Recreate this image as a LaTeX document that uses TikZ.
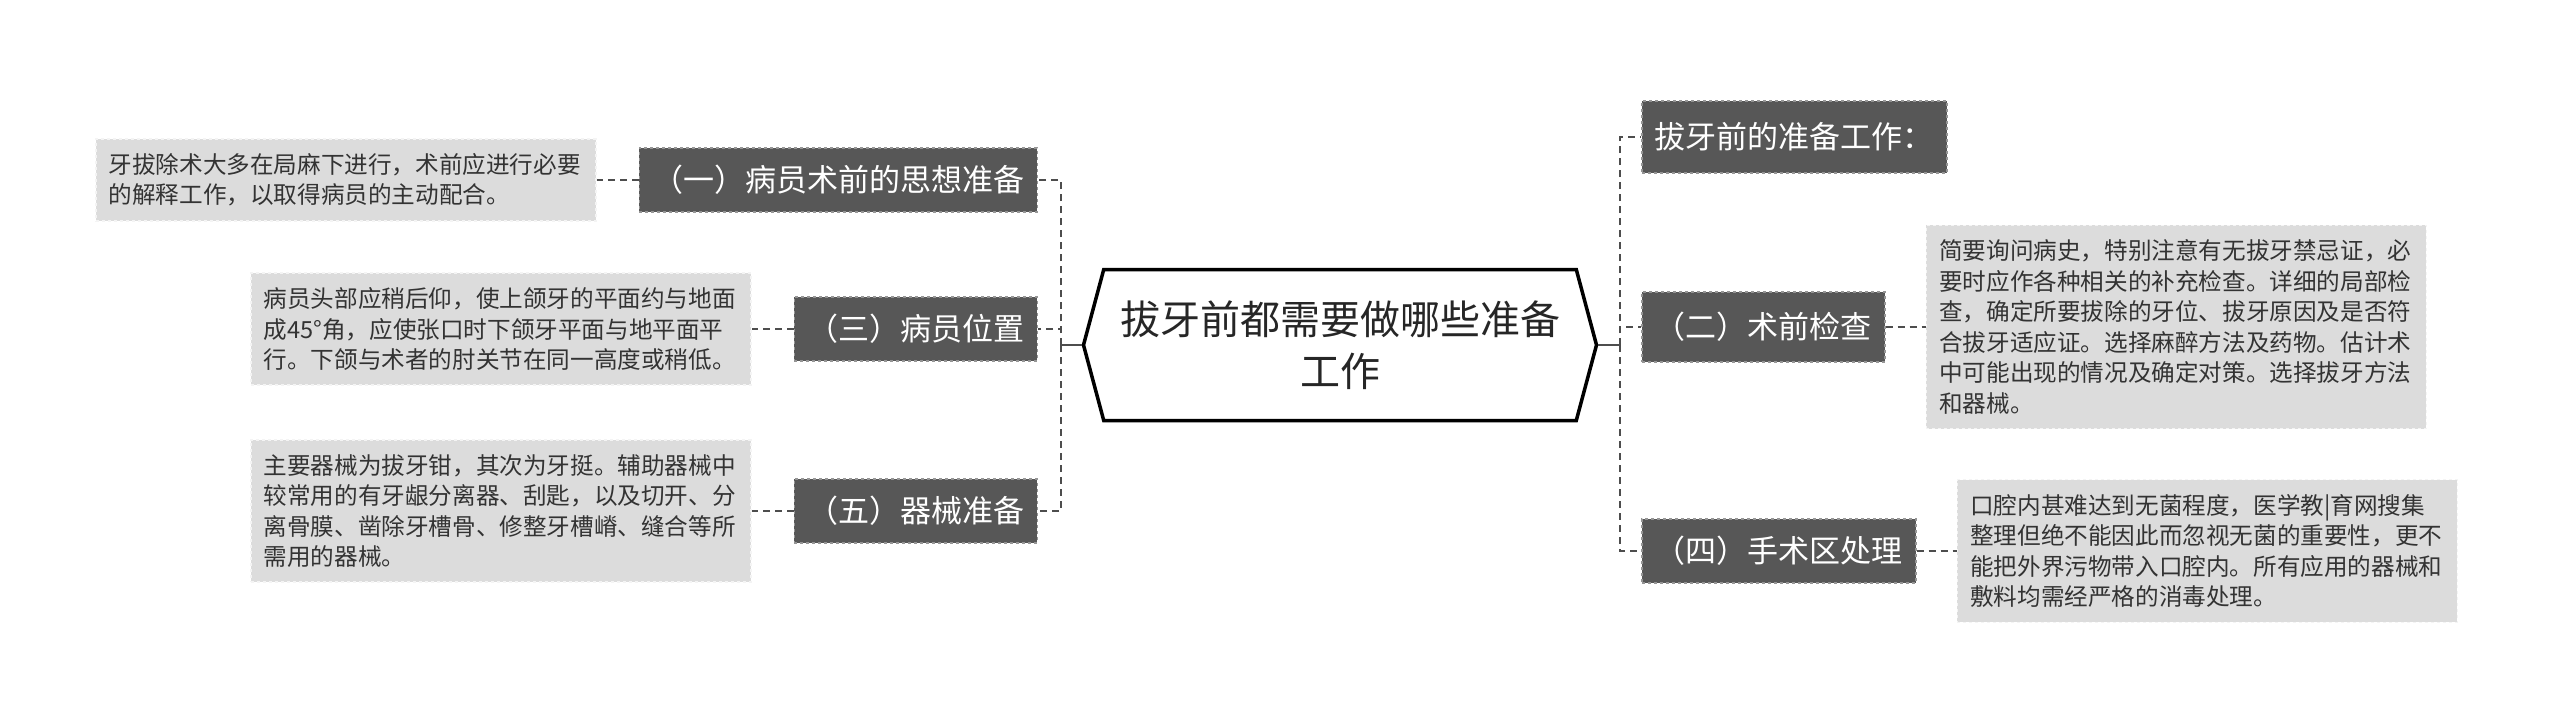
\documentclass[tikz,border=0pt]{standalone}
\usepackage{fontspec}
\setmainfont{Noto Sans CJK SC}
\usetikzlibrary{positioning,shapes.symbols}
\definecolor{topicgray}{HTML}{575757}
\definecolor{topicedge}{HTML}{959595}
\definecolor{leafgray}{HTML}{DCDCDC}
\definecolor{leafedge}{HTML}{F4F4F4}
\definecolor{leaftext}{HTML}{333333}
\definecolor{linkgray}{HTML}{4D4D4D}
\begin{document}
\begin{tikzpicture}[x=1pt,y=-1pt,
    hub/.style={draw=black,line width=3.5pt,fill=white,shape=signal,signal to=west and east,
      signal pointer angle=150,minimum width=513pt,minimum height=151pt,align=center,
      font=\fontsize{40}{52}\selectfont,text=black!85},
    topic/.style={fill=topicgray,draw=topicedge,dashed,line width=1.5pt,text=white,
      font=\fontsize{31}{36}\selectfont,minimum height=64pt,inner xsep=13pt},
    leaf/.style={fill=leafgray,draw=leafedge,dashed,line width=1.5pt,text=leaftext,
      font=\fontsize{23.6}{30.5}\selectfont,align=left,text width=474pt,inner xsep=13pt,inner ysep=14.5pt},
    link/.style={draw=linkgray,line width=2.2pt,dash pattern=on 7pt off 5pt}]
  \useasboundingbox (0,0) rectangle (2560,728);
  \node[hub] (hub) at (1340,345) {拔牙前都需要做哪些准备\\工作};
  \node[topic,anchor=east] (t1) at (1038,180) {（一）病员术前的思想准备};
  \node[topic,anchor=east] (t3) at (1038,329) {（三）病员位置};
  \node[topic,anchor=east] (t5) at (1038,511) {（五）器械准备};
  \node[topic,anchor=west,minimum height=72pt] (t0) at (1641,137) {拔牙前的准备工作：};
  \node[topic,anchor=west,minimum height=70pt] (t2) at (1641,327) {（二）术前检查};
  \node[topic,anchor=west] (t4) at (1641,551) {（四）手术区处理};
  \node[leaf,left=42pt of t1] (l1) {牙拔除术大多在局麻下进行，术前应进行必要\\的解释工作，以取得病员的主动配合。};
  \node[leaf,left=42pt of t3] (l3) {病员头部应稍后仰，使上颌牙的平面约与地面\\成45°角，应使张口时下颌牙平面与地平面平\\行。下颌与术者的肘关节在同一高度或稍低。};
  \node[leaf,left=42pt of t5] (l5) {主要器械为拔牙钳，其次为牙挺。辅助器械中\\较常用的有牙龈分离器、刮匙，以及切开、分\\离骨膜、凿除牙槽骨、修整牙槽嵴、缝合等所\\需用的器械。};
  \node[leaf,right=40pt of t2] (l2) {简要询问病史，特别注意有无拔牙禁忌证，必\\要时应作各种相关的补充检查。详细的局部检\\查，确定所要拔除的牙位、拔牙原因及是否符\\合拔牙适应证。选择麻醉方法及药物。估计术\\中可能出现的情况及确定对策。选择拔牙方法\\和器械。};
  \node[leaf,right=40pt of t4] (l4) {口腔内甚难达到无菌程度，医学教|育网搜集\\整理但绝不能因此而忽视无菌的重要性，更不\\能把外界污物带入口腔内。所有应用的器械和\\敷料均需经严格的消毒处理。};
  \coordinate (lj) at (1061,345);
  \coordinate (rj) at (1620,345);
  \draw[draw=linkgray,line width=2.2pt] (hub.west) -- (lj);
  \draw[draw=linkgray,line width=2.2pt] (hub.east) -- (rj);
  \draw[link] (lj) |- (t1.east);
  \draw[link] (lj) |- (t3.east);
  \draw[link] (lj) |- (t5.east);
  \draw[link] (rj) |- (t0.west);
  \draw[link] (rj) |- (t2.west);
  \draw[link] (rj) |- (t4.west);
  \draw[link] (t1.west) -- (l1.east);
  \draw[link] (t3.west) -- (l3.east);
  \draw[link] (t5.west) -- (l5.east);
  \draw[link] (t2.east) -- (l2.west);
  \draw[link] (t4.east) -- (l4.west);
\end{tikzpicture}
\end{document}
